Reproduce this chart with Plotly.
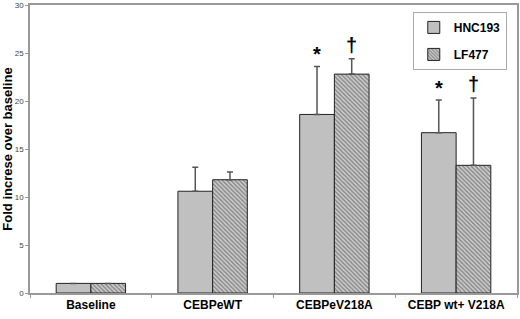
import plotly.graph_objects as go

categories = ["Baseline", "CEBPeWT", "CEBPeV218A", "CEBP wt+ V218A"]
hnc193 = [1.0, 10.6, 18.6, 16.7]
hnc193_err = [0.0, 2.5, 5.0, 3.4]
lf477 = [1.0, 11.8, 22.8, 13.3]
lf477_err = [0.0, 0.8, 1.6, 7.0]
hnc_marks = ["", "", "*", "*"]
lf_marks = ["", "", "†", "†"]
yticks = [0, 5, 10, 15, 20, 25, 30]

fig = go.Figure()
fig.add_trace(go.Bar(
    name="HNC193", x=categories, y=hnc193, legendgroup="a",
    marker=dict(color="#c0c0c0", line=dict(color="#222", width=1)),
    error_y=dict(type="data", array=hnc193_err, arrayminus=[0]*4, symmetric=False,
                 color="#555", thickness=1.5, width=3),
))
fig.add_trace(go.Bar(
    name="LF477", x=categories, y=lf477, legendgroup="b",
    marker=dict(color="#8a8a8a", line=dict(color="#222", width=1),
                pattern=dict(shape="\\", bgcolor="#cfcfcf", fgcolor="#444",
                             size=3, solidity=0.5)),
    error_y=dict(type="data", array=lf477_err, arrayminus=[0]*4, symmetric=False,
                 color="#555", thickness=1.5, width=3),
))

for c, v, e, m in zip(categories, hnc193, hnc193_err, hnc_marks):
    if m:
        fig.add_annotation(x=c, y=v + e, text="<b>" + m + "</b>", xref="x", yref="y",
                           showarrow=False, xshift=-17.5, yshift=12,
                           font=dict(size=20, color="#000000",
                                     family="Liberation Sans, Arial"))
for c, v, e, m in zip(categories, lf477, lf477_err, lf_marks):
    if m:
        fig.add_annotation(x=c, y=v + e, text="<b>" + m + "</b>", xref="x", yref="y",
                           showarrow=False, xshift=17.5, yshift=14,
                           font=dict(size=20, color="#000000",
                                     family="Liberation Sans, Arial"))

fig.update_layout(
    width=520, height=319,
    margin=dict(l=30, r=3, t=5, b=26, autoexpand=False),
    paper_bgcolor="white", plot_bgcolor="white",
    barmode="group", bargap=0.43, bargroupgap=0,
    font=dict(family="Liberation Sans, Arial", color="black"),
    showlegend=True,
    legend=dict(x=0.979, y=0.976, xanchor="right", yanchor="top",
                bgcolor="white", bordercolor="#aaa", borderwidth=1,
                font=dict(size=12, family="Liberation Sans, Arial", weight="bold"),
                tracegroupgap=8, itemwidth=30),
)
fig.update_xaxes(
    showline=True, linecolor="#999", linewidth=1.5, mirror=True, automargin=False,
    ticks="outside", ticklen=3, tickcolor="#999", tickson="boundaries",
    tickfont=dict(size=12, family="Liberation Sans, Arial", weight="bold"),
    showgrid=False,
)
fig.update_yaxes(
    range=[0, 30], tickvals=yticks, showline=True, linecolor="#999", linewidth=1.5,
    mirror=True, ticks="outside", ticklen=3, tickcolor="#999", automargin=False,
    tickfont=dict(size=8, color="#444"), showgrid=False, zeroline=False,
    title=dict(text="<b>Fold increse over baseline</b>", standoff=4,
               font=dict(size=13)),
)

fig.write_html("out.html", config={"displayModeBar": False},
               post_script="document.body.style.margin='0';")
